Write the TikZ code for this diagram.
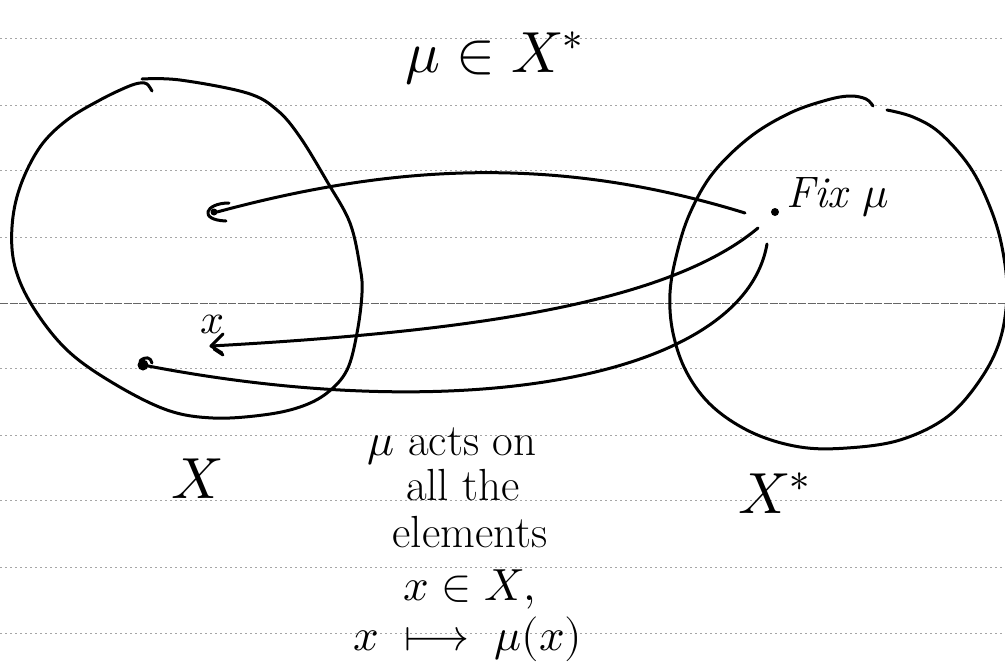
\documentclass[tikz,border=0pt]{standalone}
\usepackage{fontspec}
\usepackage{unicode-math}
\setmathfont{Latin Modern Math}
\begin{document}
\begin{tikzpicture}[x=1pt,y=-1pt,
  ink/.style={line width=3pt, line cap=round, line join=round},
  rulel/.style={line width=0.9pt, black!35, dash pattern=on 1.5pt off 3.5pt},
  marginl/.style={line width=1pt, black!60, dash pattern=on 8pt off 1.5pt},
  lbl/.style={inner sep=0pt, anchor=base},
  big/.style={font=\fontsize{58}{60}\selectfont},
  mid/.style={font=\fontsize{45}{48}\selectfont},
  dotn/.style={circle, fill, inner sep=0pt, minimum size=8pt},
]
\useasboundingbox (0,0) rectangle (1005,662);
\clip (0,0) rectangle (1005,662);
\fill[white] (0,0) rectangle (1005,662);

% ruled paper
\foreach \yy in {38,105,170,237,368,435,500,567,633}
  \draw[rulel] (0,\yy) -- (1005,\yy);
\draw[marginl] (0,303) -- (1005,303);

% left set X
\draw[ink] plot[smooth, tension=0.6] coordinates {
  (152,91) (147,84) (140,83) (127,87) (100,100) (67,120) (40,147) (20,187)
  (12,227) (15,267) (33,307) (67,350) (113,383) (167,410) (213,418)
  (263,415) (300,407) (327,393) (347,370) (357,333) (362,293) (360,267)
  (350,223) (328,183) (300,137) (277,110) (247,93) (180,80) (142,79)};

% right set X*
\draw[ink] plot[smooth, tension=0.6] coordinates {
  (873,106) (866,99) (850,96) (827,100) (790,113) (750,137) (713,173)
  (690,213) (677,253) (670,293) (673,333) (687,373) (713,407) (753,433)
  (800,447) (847,448) (900,440) (947,417) (980,380) (1000,340) (1007,293)
  (1002,247) (990,207) (970,167) (940,133) (913,117) (887,110)};

% texts
\node[lbl, big] (title) at (494,72) {$\mu\in X^{*}$};
\node[lbl, big] (setX) at (197,498) {$X$};
\node[lbl, big] (setXs) at (774,513) {$X^{*}$};
\node[lbl, anchor=base west, font=\fontsize{44}{46}\selectfont] (fix) at (786,207) {\textit{Fix} $\mu$};
\node[lbl, font=\fontsize{42}{44}\selectfont] (xl) at (213,333) {$x$};

\node[lbl, mid] (t1) at (452,455) {$\mu$ acts on};
\node[lbl, mid] (t2) at (463,500) {all the};
\node[lbl, mid] (t3) at (470,547) {elements};
\node[lbl, mid] (t4) at (470,600) {$x\in X,$};
\node[lbl, mid] (t5) at (468,650) {$x \;\longmapsto\; \mu(x)$};

% the fixed functional
\node[dotn] (mu) at (775,212) {};

% connector end points
\coordinate (s1) at (745,213);
\coordinate (e1) at (217,212);
\coordinate (s2) at (758,228);
\coordinate (e2) at (211,346);
\coordinate (s3) at (767,244);
\coordinate (e3) at (143,365);

% connectors
\draw[ink] (s1) .. controls (554,154) and (391,165) .. (e1);
\draw[ink] (s2) .. controls (666,305) and (463,332) .. (e2);
\draw[ink] (s3) .. controls (744,377) and (466,428) .. (e3);

% heads
\fill ([shift={(-3,0)}]e1) circle (3.5);
\draw[ink] ([shift={(12,-9)}]e1) .. controls ([shift={(-12,-9)}]e1) and ([shift={(-19,8)}]e1) .. ([shift={(9,9)}]e1);
\draw[ink] ([shift={(12,-12)}]e2) -- (e2) -- ([shift={(11,7)}]e2);
\draw[ink] ([shift={(3,3)}]e2) -- ([shift={(12,9)}]e2);
\fill (e3) circle (5.5);
\draw[ink] ([shift={(-3,-4)}]e3) .. controls ([shift={(2,-9)}]e3) and ([shift={(8,-8)}]e3) .. ([shift={(9,-2)}]e3);
\end{tikzpicture}
\end{document}
